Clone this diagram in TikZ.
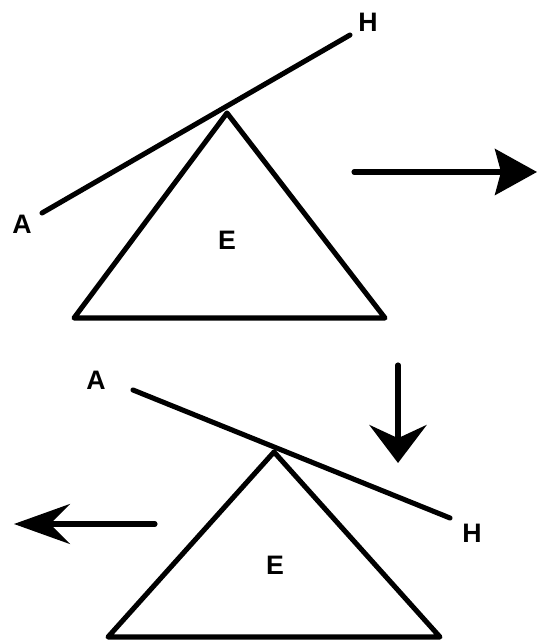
\documentclass[tikz,border=0pt]{standalone}
\usepackage{fontspec}
\setmainfont{Liberation Sans}
\usepackage{tkz-euclide}
\usetikzlibrary{arrows.meta}
\definecolor{ShapeClr}{rgb}{0,0,0}

\tikzset{lbl/.style={font=\bfseries\fontsize{19}{19}\selectfont,inner sep=0pt}}

\begin{document}
\begin{tikzpicture}
\tkzSetUpLine[line width=3.6pt,color=ShapeClr]
\useasboundingbox (0,0) rectangle (13.425,16.05);

% top: line resting on the apex
\tkzDefPoints{1.05/10.725/A1,8.75/15.175/H1}
\tkzDefPoints{5.675/13.225/T1,1.85/8.1/L1,9.625/8.1/R1}

% bottom: line tilted the other way
\tkzDefPoints{3.325/6.3/A2,11.25/3.1/H2}
\tkzDefPoints{6.85/4.75/T2,2.7/0.125/L2,11/0.125/R2}

% arrows
\tkzDefPoints{8.85/11.75/P1,13.425/11.75/P2}
\tkzDefPoints{9.95/6.925/Q1,9.95/4.475/Q2}
\tkzDefPoints{3.875/2.95/S1,0.35/2.95/S2}

\tkzDrawPolygon[line width=3.6pt,color=ShapeClr](T1,L1,R1)
\tkzDrawPolygon[line width=3.6pt,color=ShapeClr](T2,L2,R2)
\tkzDrawSegments(A1,H1 A2,H2)

\tkzDrawSegment[-{Stealth[length=1.05cm,width=1.15cm,inset=0.15cm]}](P1,P2)
\tkzDrawSegment[-{Stealth[length=0.95cm,width=1.43cm,inset=0.33cm]}](Q1,Q2)
\tkzDrawSegment[-{Stealth[length=1.4cm,width=1cm,inset=0.5cm]}](S1,S2)

\node[lbl] (labA1) at (0.55,10.45) {A};
\node[lbl] (labH1) at (9.2,15.5) {H};
\node[lbl] (labE1) at (5.675,10.05) {E};
\node[lbl] (labA2) at (2.4,6.55) {A};
\node[lbl] (labH2) at (11.8,2.725) {H};
\node[lbl] (labE2) at (6.875,1.925) {E};

\end{tikzpicture}
\end{document}
